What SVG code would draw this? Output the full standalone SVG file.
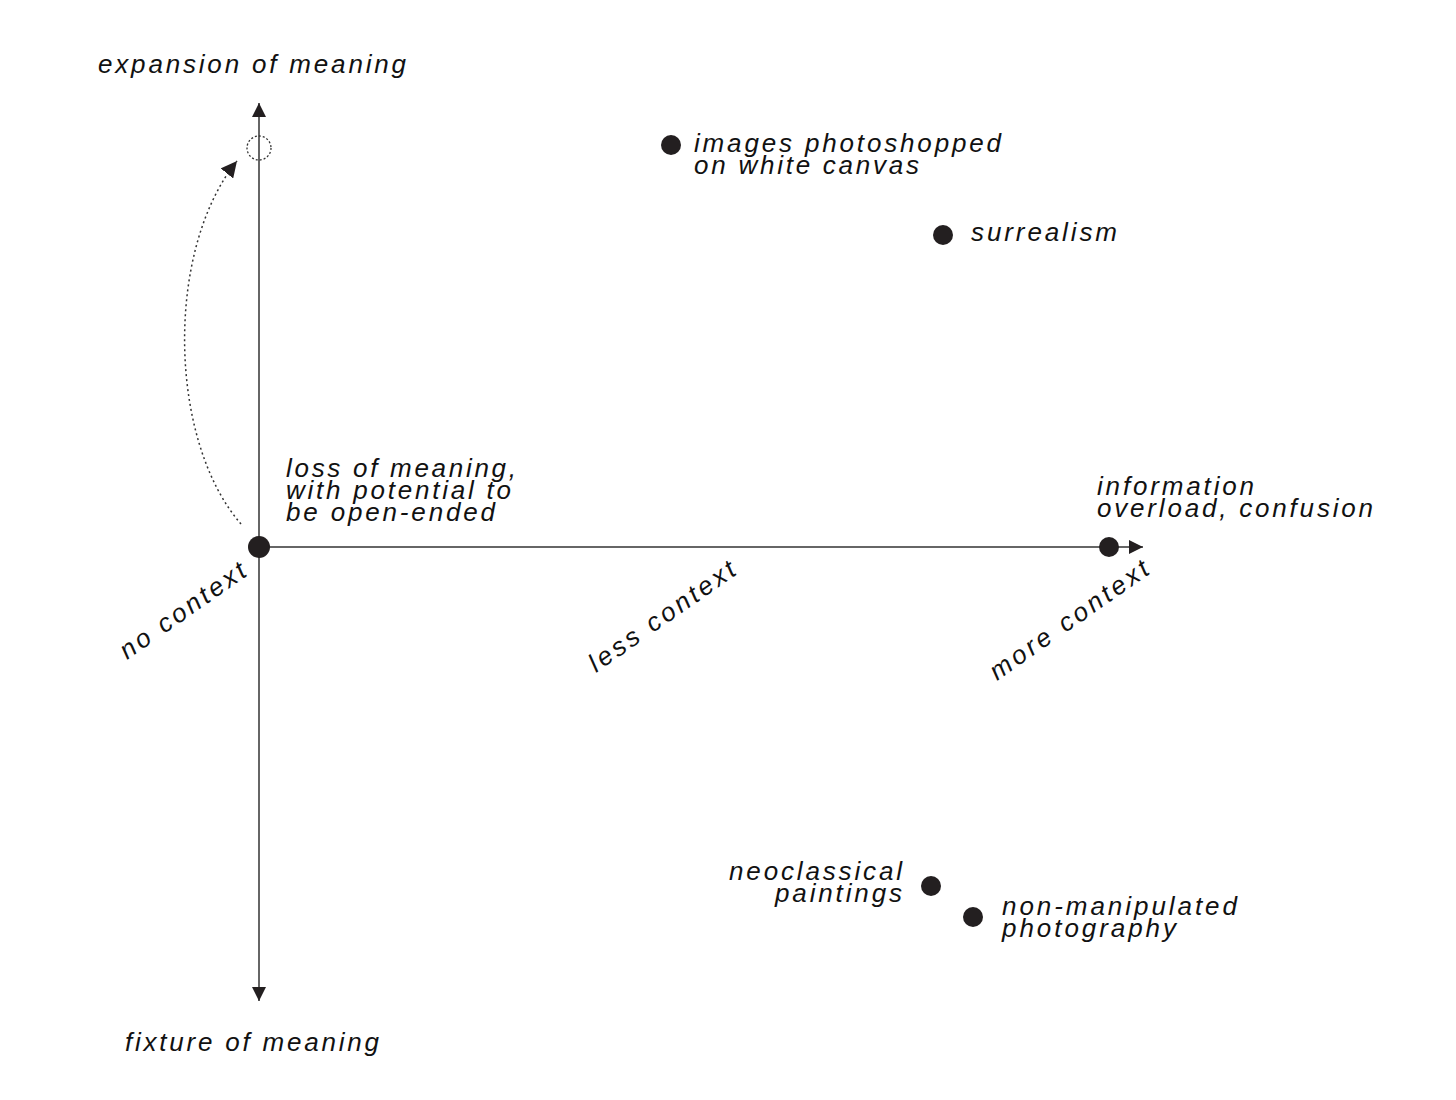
<svg xmlns="http://www.w3.org/2000/svg" width="1456" height="1100" viewBox="0 0 1456 1100">
<style>
text{font-family:"Liberation Sans",Arial,sans-serif;font-style:italic;font-size:26px;fill:#111;}
.dot{fill:#231f20;}
.axis{stroke:#333;stroke-width:1.5;fill:none;}
</style>
<defs>
<marker id="ah" viewBox="0 0 10 10" refX="10" refY="5" markerWidth="14" markerHeight="14" markerUnits="userSpaceOnUse" orient="auto"><path d="M0,0 L10,5 L0,10 Z" fill="#231f20"/></marker>
<marker id="ah2" viewBox="0 0 10 10" refX="10" refY="5" markerWidth="16" markerHeight="16" markerUnits="userSpaceOnUse" orient="auto"><path d="M0,0 L10,5 L0,10 Z" fill="#231f20"/></marker>
</defs>
<rect width="1456" height="1100" fill="#fff"/>
<g id="connectors">
<line class="axis" x1="259" y1="547" x2="259" y2="103" marker-end="url(#ah)"/>
<line class="axis" x1="259" y1="547" x2="259" y2="1001" marker-end="url(#ah)"/>
<line class="axis" x1="259" y1="547" x2="1143" y2="547" marker-end="url(#ah)"/>
<path d="M241,524 C168,440 165,250 237,161" fill="none" stroke="#333" stroke-width="1.5" stroke-dasharray="2,3" marker-end="url(#ah2)"/>
<circle cx="259" cy="148" r="12" fill="none" stroke="#333" stroke-width="1.3" stroke-dasharray="2,2"/>
</g>
<g id="axis-labels">
<text x="98" y="73" textLength="308" lengthAdjust="spacing">expansion of meaning</text>
<text x="125" y="1051" textLength="254" lengthAdjust="spacing">fixture of meaning</text>
<text transform="translate(127,660) rotate(-35)" textLength="148" lengthAdjust="spacing">no context</text>
<text transform="translate(596,673) rotate(-35)" textLength="173" lengthAdjust="spacing">less context</text>
<text transform="translate(997,681) rotate(-35)" textLength="188" lengthAdjust="spacing">more context</text>
</g>
<g id="node-origin">
<circle class="dot" cx="259" cy="547" r="11"/>
<text x="286" y="477" textLength="230" lengthAdjust="spacing">loss of meaning,</text>
<text x="286" y="499" textLength="225" lengthAdjust="spacing">with potential to</text>
<text x="286" y="521" textLength="209" lengthAdjust="spacing">be open-ended</text>
</g>
<g id="node-overload">
<circle class="dot" cx="1109" cy="547" r="10"/>
<text x="1097" y="495" textLength="157" lengthAdjust="spacing">information</text>
<text x="1097" y="517" textLength="276" lengthAdjust="spacing">overload, confusion</text>
</g>
<g id="node-photoshopped">
<circle class="dot" cx="671" cy="145" r="10"/>
<text x="694" y="152" textLength="307" lengthAdjust="spacing">images photoshopped</text>
<text x="694" y="174" textLength="225" lengthAdjust="spacing">on white canvas</text>
</g>
<g id="node-surrealism">
<circle class="dot" cx="943" cy="235" r="10"/>
<text x="971" y="241" textLength="146" lengthAdjust="spacing">surrealism</text>
</g>
<g id="node-neoclassical">
<circle class="dot" cx="931" cy="886" r="10"/>
<text x="729" y="880" textLength="173" lengthAdjust="spacing">neoclassical</text>
<text x="775" y="902" textLength="127" lengthAdjust="spacing">paintings</text>
</g>
<g id="node-photography">
<circle class="dot" cx="973" cy="917" r="10"/>
<text x="1002" y="915" textLength="235" lengthAdjust="spacing">non-manipulated</text>
<text x="1002" y="937" textLength="174" lengthAdjust="spacing">photography</text>
</g>
</svg>
